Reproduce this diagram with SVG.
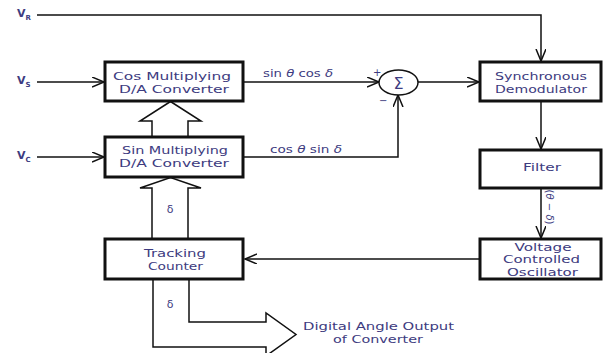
<svg xmlns="http://www.w3.org/2000/svg" width="603" height="353" viewBox="0 0 603 353">
<style>
.box{fill:#fff;stroke:#111;stroke-width:3}
.ln{fill:none;stroke:#111;stroke-width:1.5}
.hol{fill:#fff;stroke:#111;stroke-width:1.5;stroke-linejoin:miter}
.t{font-family:"DejaVu Sans","Liberation Sans",sans-serif;font-size:11px;fill:#3d3b80;text-anchor:middle}
.lbl{font-family:"DejaVu Sans","Liberation Sans",sans-serif;font-size:10px;fill:#3d3b80}
.v{font-family:"DejaVu Sans","Liberation Sans",sans-serif;font-size:11px;font-weight:bold;fill:#3d3b80}
</style>
<defs>
<marker id="ah" markerUnits="userSpaceOnUse" markerWidth="14" markerHeight="12" refX="12" refY="5" orient="auto">
<path d="M0,0 L12,5 L0,10" fill="none" stroke="#111" stroke-width="1.5"/>
</marker>
</defs>

<g id="connectors">
<path class="ln" d="M37,15 H541 V61" marker-end="url(#ah)"/>
<path class="ln" d="M37,82 H104" marker-end="url(#ah)"/>
<path class="ln" d="M37,157 H104" marker-end="url(#ah)"/>
<path class="ln" d="M243,82 H379" marker-end="url(#ah)"/>
<path class="ln" d="M243,157 H398 V95" marker-end="url(#ah)"/>
<path class="ln" d="M418,82 H479" marker-end="url(#ah)"/>
<path class="ln" d="M541,101 V149" marker-end="url(#ah)"/>
<path class="ln" d="M541,188 V238" marker-end="url(#ah)"/>
<path class="ln" d="M480,259 H245" marker-end="url(#ah)"/>
<path class="hol" d="M152,137 V121 H140 L170.5,101.5 L201,121 H188 V137"/>
<path class="hol" d="M152,239 V188 H140 L170.5,177.5 L201,188 H188 V239"/>
<path class="hol" d="M153,280 V347 H266 V356 L296,334.5 L266,313 V322 H189 V280"/>
</g>

<g id="sum">
<ellipse cx="398.5" cy="82.5" rx="19.5" ry="12.5" fill="#fff" stroke="#111" stroke-width="1.5"/>
<text x="398.5" y="88.5" class="t" style="font-size:16px">Σ</text>
<text x="373" y="76" class="lbl" font-size="9">+</text>
<text x="379" y="104" class="lbl">−</text>
</g>

<g id="cos">
<rect class="box" x="105" y="62" width="138" height="39"/>
<text class="t" x="172" y="80" textLength="118" lengthAdjust="spacingAndGlyphs">Cos Multiplying</text>
<text class="t" x="174" y="93" textLength="110" lengthAdjust="spacingAndGlyphs">D/A Converter</text>
</g>

<g id="sin">
<rect class="box" x="105" y="137" width="138" height="40"/>
<text class="t" x="175" y="154" textLength="106" lengthAdjust="spacingAndGlyphs">Sin Multiplying</text>
<text class="t" x="174" y="167" textLength="110" lengthAdjust="spacingAndGlyphs">D/A Converter</text>
</g>

<g id="tracking">
<rect class="box" x="105" y="239" width="138" height="40"/>
<text class="t" x="175" y="257" textLength="62" lengthAdjust="spacingAndGlyphs">Tracking</text>
<text class="t" x="175.5" y="270" textLength="55" lengthAdjust="spacingAndGlyphs">Counter</text>
</g>

<g id="sync">
<rect class="box" x="480" y="62" width="121" height="39"/>
<text class="t" x="541" y="80" textLength="92" lengthAdjust="spacingAndGlyphs">Synchronous</text>
<text class="t" x="541" y="93" textLength="92" lengthAdjust="spacingAndGlyphs">Demodulator</text>
</g>

<g id="filter">
<rect class="box" x="480" y="150" width="121" height="38"/>
<text class="t" x="542" y="171" textLength="38" lengthAdjust="spacingAndGlyphs">Filter</text>
</g>

<g id="vco">
<rect class="box" x="480" y="239" width="121" height="40"/>
<text class="t" x="543" y="250.5" textLength="57" lengthAdjust="spacingAndGlyphs">Voltage</text>
<text class="t" x="541.5" y="263" textLength="77" lengthAdjust="spacingAndGlyphs">Controlled</text>
<text class="t" x="542.5" y="275.5" textLength="71" lengthAdjust="spacingAndGlyphs">Oscillator</text>
</g>

<g id="labels">
<text class="v" x="17" y="17">V<tspan font-size="7" dy="3">R</tspan></text>
<text class="v" x="17" y="84">V<tspan font-size="7" dy="3">S</tspan></text>
<text class="v" x="17" y="159">V<tspan font-size="7" dy="3">C</tspan></text>
<text class="lbl" x="263" y="77" textLength="70" lengthAdjust="spacingAndGlyphs">sin <tspan font-style="italic">θ</tspan> cos <tspan font-style="italic">δ</tspan></text>
<text class="lbl" x="270" y="153" textLength="72" lengthAdjust="spacingAndGlyphs">cos <tspan font-style="italic">θ</tspan> sin <tspan font-style="italic">δ</tspan></text>
<text class="lbl" x="0" y="0" text-anchor="middle" font-size="9" transform="translate(546,207) rotate(90)">(<tspan font-style="italic">θ</tspan> − <tspan font-style="italic">δ</tspan>)</text>
<text class="t" x="170" y="213">δ</text>
<text class="t" x="170" y="308">δ</text>
<text class="t" x="378.5" y="330" textLength="151" lengthAdjust="spacingAndGlyphs">Digital Angle Output</text>
<text class="t" x="378" y="343" textLength="90" lengthAdjust="spacingAndGlyphs">of Converter</text>
</g>
</svg>
